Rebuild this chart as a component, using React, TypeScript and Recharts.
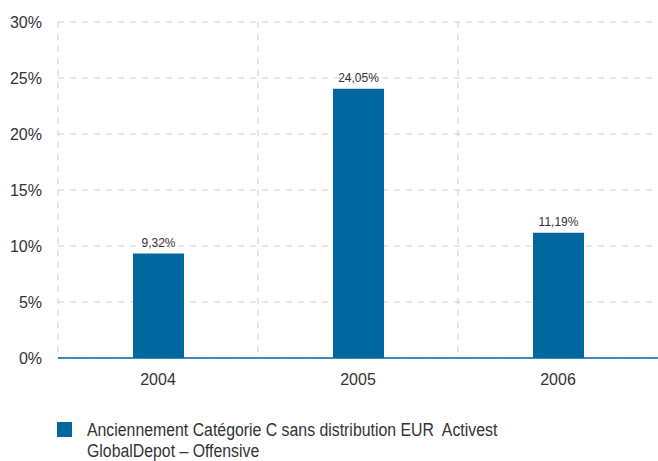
import { BarChart, Bar, XAxis, YAxis, CartesianGrid, Legend, LabelList } from "recharts";

const years = ["2004", "2005", "2006"];
const performance = [9.32, 24.05, 11.19];
const yTicks = [0, 5, 10, 15, 20, 25, 30];
const seriesName = "Anciennement Catégorie C sans distribution EUR  Activest GlobalDepot – Offensive";

const BLUE = "#00679f";
const GRID = "#cfcfcf";

const data = years.map((year, i) => ({ year, value: performance[i] }));

const pct = (v: number) => `${v.toFixed(2).replace(".", ",")}%`;

function LegendBox() {
  return (
    <div style={{ display: "flex", alignItems: "flex-start", paddingLeft: 57 }}>
      <span
        style={{ width: 15, height: 15, background: BLUE, marginTop: 2, marginRight: 15, flexShrink: 0 }}
      />
      <span
        style={{
          fontFamily: "'Liberation Sans', Arial, sans-serif",
          fontSize: 18,
          lineHeight: "21px",
          color: "#333",
          width: 500,
          whiteSpace: "pre-wrap",
          transform: "scaleX(0.88)",
          transformOrigin: "left top",
        }}
      >
        {seriesName}
      </span>
    </div>
  );
}

export default function App() {
  return (
    <div style={{ position: "absolute", left: 0, top: 0, fontFamily: "'Liberation Sans', Arial, sans-serif" }}>
      <BarChart width={658} height={461} data={data} margin={{ top: 22, right: 0, bottom: 0, left: 0 }}>
        <CartesianGrid
          stroke={GRID}
          strokeDasharray="6 6"
          verticalCoordinatesGenerator={({ offset }: any) =>
            years.map((_, i) => offset.left + (offset.width / years.length) * i)
          }
        />
        <XAxis
          dataKey="year"
          height={62}
          tickLine={false}
          tickSize={0}
          tickMargin={16}
          axisLine={{ stroke: BLUE, strokeWidth: 1.5 }}
          tick={{ fill: "#333", fontSize: 16 }}
        />
        <YAxis
          width={58}
          domain={[0, 30]}
          ticks={yTicks}
          axisLine={false}
          tickLine={false}
          tickSize={0}
          tickMargin={16}
          tickFormatter={(v: number) => `${v}%`}
          tick={{ fill: "#333", fontSize: 16 }}
        />
        <Legend verticalAlign="bottom" align="left" height={41} content={() => <LegendBox />} />
        <Bar dataKey="value" name={seriesName} fill={BLUE} barSize={51} isAnimationActive={false}>
          <LabelList dataKey="value" position="top" offset={7} formatter={(v: any) => pct(v)} fill="#333" fontSize={12} />
        </Bar>
      </BarChart>
    </div>
  );
}
